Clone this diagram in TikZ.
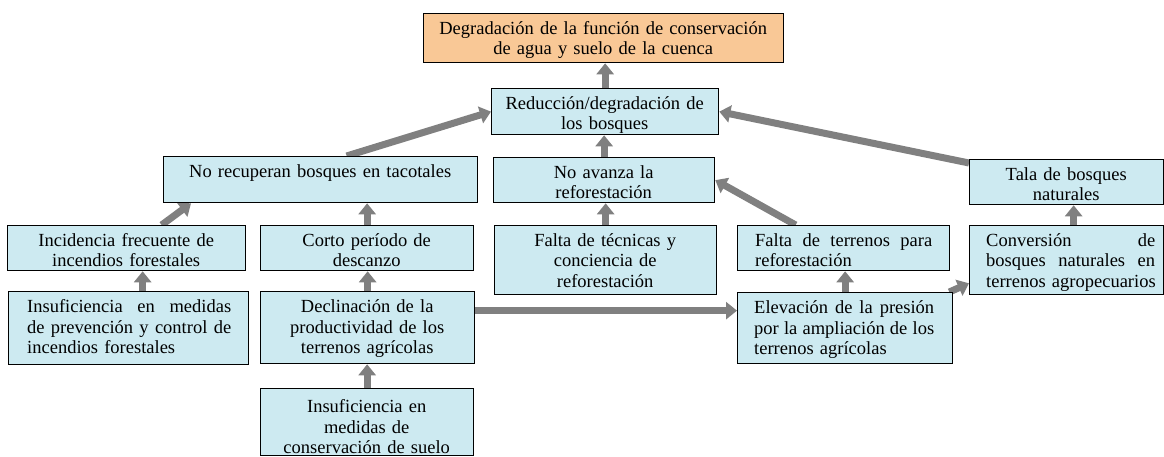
\documentclass[tikz,border=0pt]{standalone}
\usepackage{fontspec}
\setmainfont{Liberation Serif}
\usetikzlibrary{arrows.meta,calc,backgrounds}
\definecolor{boxblue}{RGB}{205,234,241}
\definecolor{boxorange}{RGB}{249,200,150}
\definecolor{arrgray}{RGB}{128,128,128}
\newcommand\fsz{\fontsize{18.5pt}{20.8pt}\selectfont}
\newcommand\st{\rule{0pt}{15pt}}
\newcommand\jl[1]{\leavevmode\hbox to \tw{#1}}
\newcommand\lastl[1]{\leavevmode\hbox to \tw{#1\hfil}}
\newcommand\bx[9]{%
  \pgfmathsetlengthmacro\bw{#4-#2}%
  \pgfmathsetlengthmacro\bh{#5-#3}%
  \pgfmathsetlengthmacro\tw{#4-#2-#7-#8}%
  \node[#6, anchor=north west, minimum width=\bw, minimum height=\bh] (#1) at (#2,#3) {};
  \node[txt, text width=\tw, anchor=north west] (#1-t) at ([xshift=#7pt,yshift=-6pt]#1.north west) {\noindent\st #9};
}
\begin{document}
\begin{tikzpicture}[x=1pt,y=-1pt,
  boxb/.style={draw=black,line width=1.3pt,fill=boxblue,inner sep=0pt},
  boxo/.style={draw=black,line width=1.3pt,fill=boxorange,inner sep=0pt},
  txt/.style={inner sep=0pt,font=\fsz,align=center},
  arr/.style={draw=arrgray,line width=7pt,-{Triangle[width=17pt,length=11pt]}}]
\useasboundingbox (0,0) rectangle (1164,457);

\bx{top}{423}{13}{783}{62}{boxo}{8}{8}{Degradación de la función de conservación\\de agua y suelo de la cuenca}
\bx{red}{491}{88}{718}{134}{boxb}{8}{8}{Reducción/degradación de\\los bosques}
\bx{norec}{163}{156}{477}{202}{boxb}{8}{8}{No recuperan bosques en tacotales}
\bx{noav}{493}{157}{714}{202}{boxb}{8}{8}{No avanza la\\reforestación}
\bx{tala}{969}{159}{1163}{204}{boxb}{8}{8}{Tala de bosques\\naturales}
\bx{incid}{7}{225}{245}{270}{boxb}{8}{8}{Incidencia frecuente de\\incendios forestales}
\bx{corto}{260}{225}{473}{270}{boxb}{8}{8}{Corto período de\\descanzo}
\bx{ftec}{494}{225}{716}{294}{boxb}{8}{8}{Falta de técnicas y\\conciencia de\\reforestación}
\bx{fter}{737}{225}{949}{270}{boxb}{18}{17}{\jl{Falta\hfill de\hfill terrenos\hfill para}\\\lastl{reforestación}}
\bx{conv}{969}{225}{1163}{294}{boxb}{17}{8}{\jl{Conversión\hfill de}\\\jl{bosques\hfill naturales\hfill en}\\\lastl{terrenos agropecuarios}}
\bx{insp}{8}{291}{248}{364}{boxb}{19}{17}{\jl{Insuficiencia\hfill en\hfill medidas}\\\jl{de\hfill prevención\hfill y\hfill control\hfill de}\\\lastl{incendios forestales}}
\bx{decl}{260}{291}{474}{363}{boxb}{8}{8}{Declinación de la\\productividad de los\\terrenos agrícolas}
\bx{elev}{737}{292}{952}{363}{boxb}{17}{18}{\jl{Elevación\hfill de\hfill la\hfill presión}\\\jl{por\hfill la\hfill ampliación\hfill de\hfill los}\\\lastl{terrenos agrícolas}}
\bx{cons}{260}{388}{473}{455}{boxb}{8}{8}{\rule{0pt}{18pt}Insuficiencia en\\medidas de\\conservación de suelo}

\begin{scope}[on background layer]
\fill[white] (0,0) rectangle (1164,457);
\draw[arr] (red.north) -- (red.north |- top.south);
\draw[arr] (noav.north) -- (noav.north |- red.south);
\draw[arr] (ftec.north) -- (ftec.north |- noav.south);
\draw[arr] (corto.north) -- (corto.north |- norec.south);
\draw[arr] ([xshift=14pt]insp.north) -- ([xshift=14pt]insp.north |- incid.south);
\draw[arr] (decl.north) -- (decl.north |- corto.south);
\draw[arr] (cons.north) -- (cons.north |- decl.south);
\draw[arr] (elev.north) -- (elev.north |- fter.south);
\draw[arr] ([xshift=7pt]conv.north) -- ([xshift=7pt]conv.north |- tala.south);
\draw[arr] ([xshift=26pt]norec.north) -- (red.west);
\draw[arr] ([yshift=-4pt]tala.north west) -- (red.east);
\draw[arr] ([xshift=-48pt]fter.north) -- (noav.east);
\draw[arr] ([xshift=-4pt]elev.north east) -- ([yshift=12pt]conv.south west);
\draw[arr] ([xshift=35pt]incid.north) -- ([xshift=28pt]norec.south west);
\draw[arr] ([yshift=17pt]decl.east) -- ([yshift=17pt]decl.east -| elev.west);
\end{scope}
\end{tikzpicture}
\end{document}
